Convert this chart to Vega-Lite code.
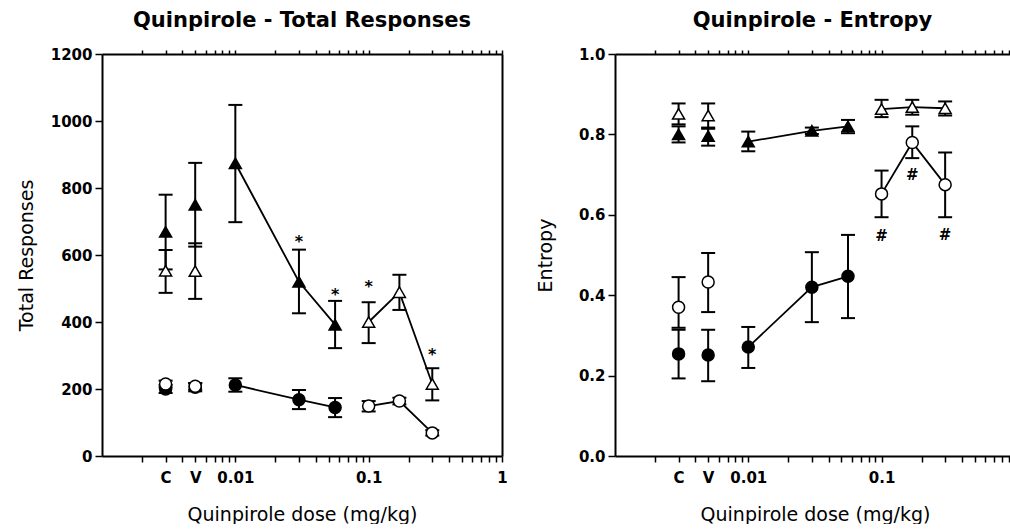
{
  "$schema": "https://vega.github.io/schema/vega-lite/v6.json",
  "background": "white",
  "padding": {"left": 17, "top": 10, "right": 0, "bottom": 0},
  "bounds": "flush",
  "spacing": 113,
  "config": {
    "view": {"stroke": null},
    "font": "DejaVu Sans",
    "axis": {
      "grid": false, "domainColor": "black", "domainWidth": 2, "tickColor": "black", "tickWidth": 1.5,
      "labelColor": "black", "titleColor": "black", "labelFont": "DejaVu Sans", "labelFontWeight": "bold",
      "labelFontSize": 15, "titleFont": "DejaVu Sans", "titleFontWeight": "normal", "titleFontSize": 19
    },
    "title": {"font": "DejaVu Sans", "fontSize": 21, "fontWeight": "bold", "color": "black", "anchor": "middle"}
  },
  "datasets": {
    "resp": [
      {"series": "ft", "dose": 0.003, "mean": 669, "lo": 557, "hi": 780, "conn": "no"},
      {"series": "ft", "dose": 0.005, "mean": 750, "lo": 625, "hi": 875, "conn": "no"},
      {"series": "ft", "dose": 0.01, "mean": 874, "lo": 698, "hi": 1048, "conn": "yes"},
      {"series": "ft", "dose": 0.03, "mean": 520, "lo": 426, "hi": 616, "conn": "yes"},
      {"series": "ft", "dose": 0.056, "mean": 392, "lo": 322, "hi": 463, "conn": "yes"},
      {"series": "ot", "dose": 0.003, "mean": 553, "lo": 487, "hi": 615, "conn": "no"},
      {"series": "ot", "dose": 0.005, "mean": 552, "lo": 469, "hi": 635, "conn": "no"},
      {"series": "ot", "dose": 0.1, "mean": 400, "lo": 337, "hi": 459, "conn": "yes"},
      {"series": "ot", "dose": 0.17, "mean": 489, "lo": 436, "hi": 541, "conn": "yes"},
      {"series": "ot", "dose": 0.3, "mean": 215, "lo": 166, "hi": 262, "conn": "yes"},
      {"series": "fc", "dose": 0.003, "mean": 200, "lo": 188, "hi": 212, "conn": "no"},
      {"series": "fc", "dose": 0.005, "mean": 205, "lo": 193, "hi": 217, "conn": "no"},
      {"series": "fc", "dose": 0.01, "mean": 212, "lo": 192, "hi": 232, "conn": "yes"},
      {"series": "fc", "dose": 0.03, "mean": 168, "lo": 140, "hi": 197, "conn": "yes"},
      {"series": "fc", "dose": 0.056, "mean": 145, "lo": 116, "hi": 173, "conn": "yes"},
      {"series": "oc", "dose": 0.003, "mean": 215, "lo": 205, "hi": 225, "conn": "no"},
      {"series": "oc", "dose": 0.005, "mean": 208, "lo": 198, "hi": 218, "conn": "no"},
      {"series": "oc", "dose": 0.1, "mean": 149, "lo": 133, "hi": 164, "conn": "yes"},
      {"series": "oc", "dose": 0.17, "mean": 164, "lo": 154, "hi": 174, "conn": "yes"},
      {"series": "oc", "dose": 0.3, "mean": 69, "lo": 61, "hi": 77, "conn": "yes"}
    ],
    "ent": [
      {"series": "ft", "dose": 0.003, "mean": 0.800, "lo": 0.780, "hi": 0.820, "conn": "no"},
      {"series": "ft", "dose": 0.005, "mean": 0.796, "lo": 0.772, "hi": 0.814, "conn": "no"},
      {"series": "ft", "dose": 0.01, "mean": 0.782, "lo": 0.758, "hi": 0.807, "conn": "yes"},
      {"series": "ft", "dose": 0.03, "mean": 0.809, "lo": 0.801, "hi": 0.817, "conn": "yes"},
      {"series": "ft", "dose": 0.056, "mean": 0.820, "lo": 0.803, "hi": 0.836, "conn": "yes"},
      {"series": "ot", "dose": 0.003, "mean": 0.851, "lo": 0.825, "hi": 0.877, "conn": "no"},
      {"series": "ot", "dose": 0.005, "mean": 0.847, "lo": 0.817, "hi": 0.877, "conn": "no"},
      {"series": "ot", "dose": 0.1, "mean": 0.863, "lo": 0.843, "hi": 0.886, "conn": "yes"},
      {"series": "ot", "dose": 0.17, "mean": 0.868, "lo": 0.849, "hi": 0.886, "conn": "yes"},
      {"series": "ot", "dose": 0.3, "mean": 0.865, "lo": 0.847, "hi": 0.882, "conn": "yes"},
      {"series": "fc", "dose": 0.003, "mean": 0.254, "lo": 0.193, "hi": 0.314, "conn": "no"},
      {"series": "fc", "dose": 0.005, "mean": 0.251, "lo": 0.186, "hi": 0.314, "conn": "no"},
      {"series": "fc", "dose": 0.01, "mean": 0.271, "lo": 0.219, "hi": 0.321, "conn": "yes"},
      {"series": "fc", "dose": 0.03, "mean": 0.420, "lo": 0.333, "hi": 0.507, "conn": "yes"},
      {"series": "fc", "dose": 0.056, "mean": 0.447, "lo": 0.343, "hi": 0.550, "conn": "yes"},
      {"series": "oc", "dose": 0.003, "mean": 0.370, "lo": 0.319, "hi": 0.445, "conn": "no"},
      {"series": "oc", "dose": 0.005, "mean": 0.433, "lo": 0.358, "hi": 0.505, "conn": "no"},
      {"series": "oc", "dose": 0.1, "mean": 0.652, "lo": 0.594, "hi": 0.710, "conn": "yes"},
      {"series": "oc", "dose": 0.17, "mean": 0.780, "lo": 0.741, "hi": 0.820, "conn": "yes"},
      {"series": "oc", "dose": 0.3, "mean": 0.675, "lo": 0.594, "hi": 0.755, "conn": "yes"}
    ],
    "respAnn": [
      {"dose": 0.03, "y": 651, "label": "*"},
      {"dose": 0.056, "y": 493, "label": "*"},
      {"dose": 0.1, "y": 516, "label": "*"},
      {"dose": 0.3, "y": 314, "label": "*"}
    ],
    "entAnn": [
      {"dose": 0.1, "y": 0.548, "label": "#"},
      {"dose": 0.17, "y": 0.700, "label": "#"},
      {"dose": 0.3, "y": 0.550, "label": "#"}
    ]
  },
  "hconcat": [
    {
      "width": 400,
      "height": 402,
      "title": {"text": "Quinpirole - Total Responses", "offset": 16},
      "resolve": {"axis": {"x": "independent", "y": "independent"}},
      "layer": [
        {
          "data": {"name": "resp"},
          "mark": {"type": "rule", "color": "black", "strokeWidth": 2},
          "encoding": {
            "x": {"field": "dose", "type": "quantitative", "scale": {"type": "log", "domain": [0.001, 1]},
              "axis": {"orient": "bottom", "title": "Quinpirole dose (mg/kg)", "values": [0.002,0.003,0.004,0.005,0.006,0.007,0.008,0.009,0.01,0.02,0.03,0.04,0.05,0.06,0.07,0.08,0.09,0.1,0.2,0.3,0.4,0.5,0.6,0.7,0.8,0.9,1],
                "labelExpr": "datum.value == 0.003 ? 'C' : datum.value == 0.005 ? 'V' : datum.value == 0.01 ? '0.01' : datum.value == 0.1 ? '0.1' : datum.value == 1 ? '1' : ''",
                "tickSize": 6, "labelPadding": 8, "titlePadding": 20, "labelOverlap": false, "labelFlush": false, "labelBound": false}},
            "y": {"field": "lo", "type": "quantitative", "scale": {"domain": [0, 1200], "nice": false},
              "axis": {"orient": "left", "title": "Total Responses", "format": "d", "values": [0,200,400,600,800,1000,1200], "tickSize": 7, "labelPadding": 3, "titlePadding": 14}},
            "y2": {"field": "hi"}
          }
        },
        {
          "data": {"name": "resp"},
          "mark": {"type": "tick", "orient": "horizontal", "size": 14, "thickness": 2, "color": "black", "opacity": 1},
          "encoding": {
            "x": {"field": "dose", "type": "quantitative", "scale": {"type": "log", "domain": [0.001, 1]}, "axis": null},
            "y": {"field": "lo", "type": "quantitative", "scale": {"domain": [0, 1200], "nice": false}, "axis": null}
          }
        },
        {
          "data": {"name": "resp"},
          "mark": {"type": "tick", "orient": "horizontal", "size": 14, "thickness": 2, "color": "black", "opacity": 1},
          "encoding": {
            "x": {"field": "dose", "type": "quantitative", "scale": {"type": "log", "domain": [0.001, 1]}, "axis": null},
            "y": {"field": "hi", "type": "quantitative", "scale": {"domain": [0, 1200], "nice": false}, "axis": null}
          }
        },
        {
          "data": {"name": "resp"},
          "transform": [{"filter": "datum.conn == 'yes'"}],
          "mark": {"type": "line", "color": "black", "strokeWidth": 1.8},
          "encoding": {
            "x": {"field": "dose", "type": "quantitative", "scale": {"type": "log", "domain": [0.001, 1]}, "axis": null},
            "y": {"field": "mean", "type": "quantitative", "scale": {"domain": [0, 1200], "nice": false}, "axis": null},
            "detail": {"field": "series"}
          }
        },
        {
          "data": {"name": "resp"},
          "mark": {"type": "point", "filled": true, "stroke": "black", "strokeWidth": 1.5, "opacity": 1, "size": 144},
          "encoding": {
            "x": {"field": "dose", "type": "quantitative", "scale": {"type": "log", "domain": [0.001, 1]}, "axis": null},
            "y": {"field": "mean", "type": "quantitative", "scale": {"domain": [0, 1200], "nice": false}, "axis": null},
            "shape": {"field": "series", "scale": {"domain": ["ft","ot","fc","oc"], "range": ["triangle-up","triangle-up","circle","circle"]}, "legend": null},
            "fill": {"field": "series", "scale": {"domain": ["ft","ot","fc","oc"], "range": ["black","white","black","white"]}, "legend": null}
          }
        },
        {
          "data": {"name": "respAnn"},
          "mark": {"type": "text", "fontSize": 16, "fontWeight": "bold", "color": "black", "baseline": "middle", "dy": 4},
          "encoding": {
            "x": {"field": "dose", "type": "quantitative", "scale": {"type": "log", "domain": [0.001, 1]}, "axis": null},
            "y": {"field": "y", "type": "quantitative", "scale": {"domain": [0, 1200], "nice": false}, "axis": null},
            "text": {"field": "label"}
          }
        },
        {
          "data": {"name": "resp"},
          "mark": {"type": "point", "opacity": 0},
          "encoding": {
            "x": {"field": "dose", "type": "quantitative", "scale": {"type": "log", "domain": [0.001, 1]},
              "axis": {"orient": "top", "title": null, "labels": false, "tickSize": 4, "values": [0.002,0.003,0.004,0.005,0.006,0.007,0.008,0.009,0.01,0.02,0.03,0.04,0.05,0.06,0.07,0.08,0.09,0.1,0.2,0.3,0.4,0.5,0.6,0.7,0.8,0.9,1]}},
            "y": {"field": "mean", "type": "quantitative", "scale": {"domain": [0, 1200], "nice": false},
              "axis": {"orient": "right", "title": null, "labels": false, "ticks": false}}
          }
        }
      ]
    },
    {
      "width": 395,
      "height": 402,
      "title": {"text": "Quinpirole - Entropy", "offset": 16},
      "resolve": {"axis": {"x": "independent", "y": "independent"}},
      "layer": [
        {
          "data": {"name": "ent"},
          "mark": {"type": "rule", "color": "black", "strokeWidth": 2},
          "encoding": {
            "x": {"field": "dose", "type": "quantitative", "scale": {"type": "log", "domain": [0.001, 0.92]},
              "axis": {"orient": "bottom", "title": "Quinpirole dose (mg/kg)", "values": [0.002,0.003,0.004,0.005,0.006,0.007,0.008,0.009,0.01,0.02,0.03,0.04,0.05,0.06,0.07,0.08,0.09,0.1,0.2,0.3,0.4,0.5,0.6,0.7,0.8,0.9],
                "labelExpr": "datum.value == 0.003 ? 'C' : datum.value == 0.005 ? 'V' : datum.value == 0.01 ? '0.01' : datum.value == 0.1 ? '0.1' : ''",
                "tickSize": 6, "labelPadding": 8, "titlePadding": 20, "titleX": 200, "labelOverlap": false, "labelFlush": false, "labelBound": false}},
            "y": {"field": "lo", "type": "quantitative", "scale": {"domain": [0, 1], "nice": false},
              "axis": {"orient": "left", "title": "Entropy", "format": ".1f", "values": [0,0.2,0.4,0.6,0.8,1], "tickSize": 7, "labelPadding": 3, "titlePadding": 23}},
            "y2": {"field": "hi"}
          }
        },
        {
          "data": {"name": "ent"},
          "mark": {"type": "tick", "orient": "horizontal", "size": 14, "thickness": 2, "color": "black", "opacity": 1},
          "encoding": {
            "x": {"field": "dose", "type": "quantitative", "scale": {"type": "log", "domain": [0.001, 0.92]}, "axis": null},
            "y": {"field": "lo", "type": "quantitative", "scale": {"domain": [0, 1], "nice": false}, "axis": null}
          }
        },
        {
          "data": {"name": "ent"},
          "mark": {"type": "tick", "orient": "horizontal", "size": 14, "thickness": 2, "color": "black", "opacity": 1},
          "encoding": {
            "x": {"field": "dose", "type": "quantitative", "scale": {"type": "log", "domain": [0.001, 0.92]}, "axis": null},
            "y": {"field": "hi", "type": "quantitative", "scale": {"domain": [0, 1], "nice": false}, "axis": null}
          }
        },
        {
          "data": {"name": "ent"},
          "transform": [{"filter": "datum.conn == 'yes'"}],
          "mark": {"type": "line", "color": "black", "strokeWidth": 1.8},
          "encoding": {
            "x": {"field": "dose", "type": "quantitative", "scale": {"type": "log", "domain": [0.001, 0.92]}, "axis": null},
            "y": {"field": "mean", "type": "quantitative", "scale": {"domain": [0, 1], "nice": false}, "axis": null},
            "detail": {"field": "series"}
          }
        },
        {
          "data": {"name": "ent"},
          "mark": {"type": "point", "filled": true, "stroke": "black", "strokeWidth": 1.5, "opacity": 1, "size": 144},
          "encoding": {
            "x": {"field": "dose", "type": "quantitative", "scale": {"type": "log", "domain": [0.001, 0.92]}, "axis": null},
            "y": {"field": "mean", "type": "quantitative", "scale": {"domain": [0, 1], "nice": false}, "axis": null},
            "shape": {"field": "series", "scale": {"domain": ["ft","ot","fc","oc"], "range": ["triangle-up","triangle-up","circle","circle"]}, "legend": null},
            "fill": {"field": "series", "scale": {"domain": ["ft","ot","fc","oc"], "range": ["black","white","black","white"]}, "legend": null}
          }
        },
        {
          "data": {"name": "entAnn"},
          "mark": {"type": "text", "fontSize": 15, "fontWeight": "bold", "color": "black", "baseline": "middle"},
          "encoding": {
            "x": {"field": "dose", "type": "quantitative", "scale": {"type": "log", "domain": [0.001, 0.92]}, "axis": null},
            "y": {"field": "y", "type": "quantitative", "scale": {"domain": [0, 1], "nice": false}, "axis": null},
            "text": {"field": "label"}
          }
        },
        {
          "data": {"name": "ent"},
          "mark": {"type": "point", "opacity": 0},
          "encoding": {
            "x": {"field": "dose", "type": "quantitative", "scale": {"type": "log", "domain": [0.001, 0.92]},
              "axis": {"orient": "top", "title": null, "labels": false, "tickSize": 4, "values": [0.002,0.003,0.004,0.005,0.006,0.007,0.008,0.009,0.01,0.02,0.03,0.04,0.05,0.06,0.07,0.08,0.09,0.1,0.2,0.3,0.4,0.5,0.6,0.7,0.8,0.9]}},
            "y": {"field": "mean", "type": "quantitative", "scale": {"domain": [0, 1], "nice": false}, "axis": null}
          }
        }
      ]
    }
  ]
}
